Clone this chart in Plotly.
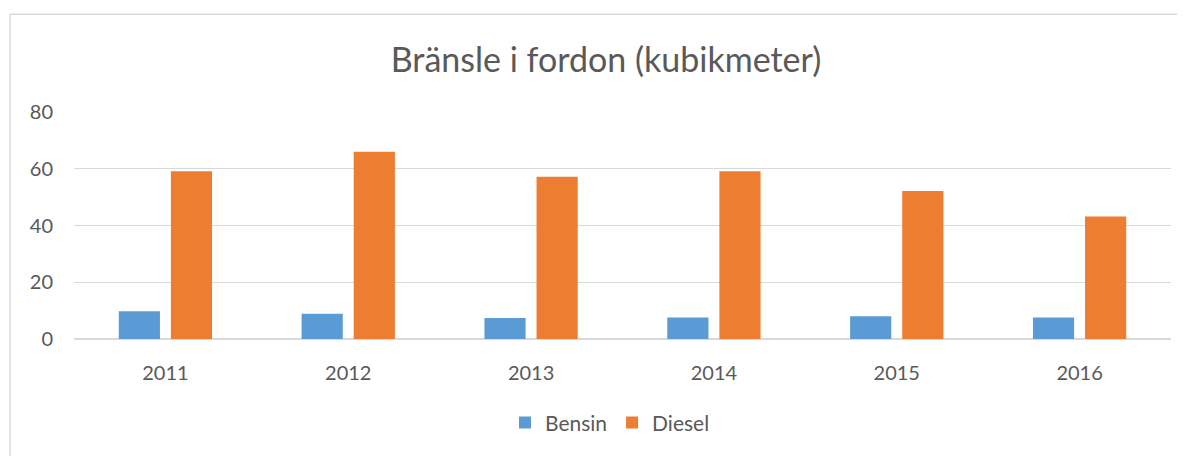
import plotly.graph_objects as go

years = ["2011", "2012", "2013", "2014", "2015", "2016"]
bensin = [9.8, 8.9, 7.4, 7.6, 8.0, 7.6]
diesel = [59.1, 66.0, 57.2, 59.1, 52.2, 43.2]

FONT = "Lato"
GRAY = "#595959"
OFF = 8  # page body margin

W, H = 1185 - OFF, 456 - OFF
L, R, T, B = 74 - OFF, 14, 112 - OFF, 114
pw, ph = W - L - R, H - T - B

fig = go.Figure()
fig.add_bar(x=years, y=bensin, name="Bensin", marker=dict(color="#5B9BD5", line=dict(width=0)))
fig.add_bar(x=years, y=diesel, name="Diesel", marker=dict(color="#ED7D31", line=dict(width=0)))

def px_x(x):
    return (x - OFF - L) / pw

def px_y(y):
    return 1 - (y - OFF - T) / ph

fig.update_layout(
    width=W, height=H,
    margin=dict(l=L, r=R, t=T, b=B),
    paper_bgcolor="white", plot_bgcolor="white",
    barmode="group", bargap=0.43, bargroupgap=0.21,
    font=dict(family=FONT, color=GRAY, size=20),
    title=dict(text="Bränsle i fordon (kubikmeter)", x=(606 - OFF) / W, xanchor="center",
               y=1 - (60 - OFF) / H, yanchor="middle",
               font=dict(family=FONT, size=34, color=GRAY)),
    showlegend=True,
    legend=dict(orientation="h", x=px_x(610), xanchor="center", y=px_y(427),
                yanchor="middle", font=dict(family=FONT, size=21, color=GRAY),
                traceorder="normal"),
    xaxis=dict(showgrid=False, showline=False, ticks="", tickfont=dict(size=20, color=GRAY),
               zeroline=False, ticklabelstandoff=20),
    yaxis=dict(range=[0, 80], dtick=20, showgrid=True, gridcolor="#D9D9D9", gridwidth=1,
               zeroline=True, zerolinecolor="#D9D9D9", zerolinewidth=2,
               showline=False, ticks="", ticklabelstandoff=20, tickfont=dict(size=20, color=GRAY)),
    shapes=[
        dict(type="line", xref="paper", yref="paper",
             x0=px_x(10), x1=px_x(10), y0=px_y(13), y1=px_y(470),
             line=dict(color="#D9D9D9", width=1.5)),
        dict(type="line", xref="paper", yref="paper",
             x0=px_x(10), x1=px_x(1200), y0=px_y(13), y1=px_y(13),
             line=dict(color="#D9D9D9", width=1.5)),
    ],
)

fig.write_html("out.html")
